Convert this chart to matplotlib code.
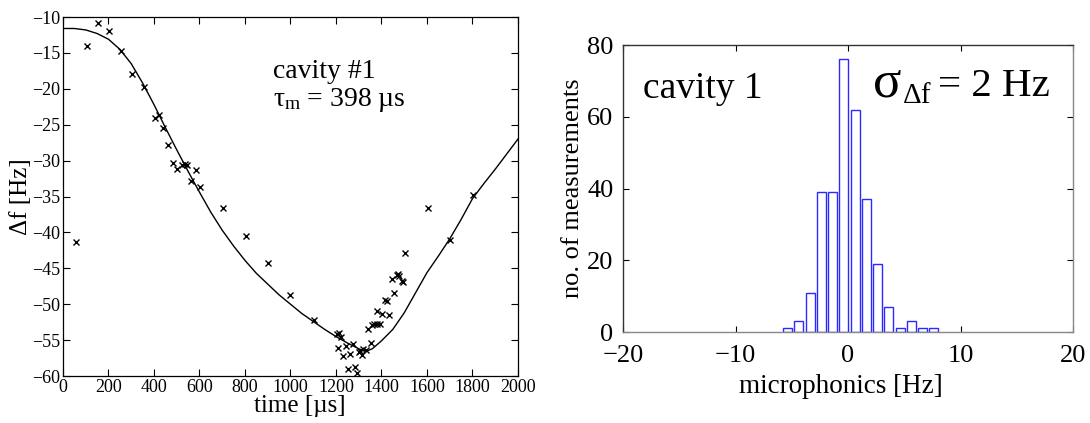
import matplotlib
matplotlib.use("Agg")
import matplotlib.pyplot as plt

plt.rcParams['font.family'] = ['Liberation Serif', 'DejaVu Serif']
plt.rcParams['mathtext.fontset'] = 'custom'
plt.rcParams['mathtext.rm'] = 'Liberation Serif'
plt.rcParams['mathtext.it'] = 'Liberation Serif'
plt.rcParams['mathtext.bf'] = 'Liberation Serif:bold'
plt.rcParams['axes.unicode_minus'] = True

# ---- left panel data: measured detuning and model curve ----
scatter_t = [57, 104, 152, 204, 253, 302, 356, 404, 424, 441,
             463, 482, 502, 522, 536, 544, 563, 585, 602, 702,
             803, 903, 1000, 1103, 1206, 1212, 1220, 1210, 1232, 1244,
             1262, 1273, 1254, 1284, 1291, 1300, 1305, 1317, 1313, 1332,
             1342, 1352, 1357, 1367, 1379, 1393, 1382, 1401, 1415, 1423,
             1434, 1445, 1455, 1467, 1472, 1477, 1489, 1496, 1503, 1606,
             1701, 1804]
scatter_f = [-41.4, -14.1, -10.9, -11.9, -14.8, -17.9, -19.8, -24.1, -23.6, -25.5,
             -27.8, -30.3, -31.1, -30.6, -30.5, -30.6, -32.9, -31.3, -33.7, -36.6,
             -40.5, -44.2, -48.7, -52.2, -54.2, -54.0, -54.5, -56.1, -57.2, -55.8,
             -56.9, -55.5, -59.0, -58.8, -59.6, -56.6, -56.5, -56.2, -57.1, -56.4,
             -53.5, -55.4, -52.9, -52.8, -52.8, -52.8, -50.9, -51.4, -49.4, -49.5,
             -51.5, -46.5, -48.5, -45.9, -45.8, -46.1, -46.8, -46.9, -42.8, -36.6,
             -41.1, -34.8]

curve_t = [0, 50, 100, 150, 200, 250, 300, 350, 400, 450, 500, 550, 600, 650,
           700, 750, 800, 850, 900, 950, 1000, 1050, 1100, 1150, 1200, 1250,
           1300, 1330, 1360, 1400, 1450, 1500, 1550, 1600, 1650, 1700, 1750,
           1800, 1850, 1900, 1950, 2000]
curve_f = [-11.6, -11.6, -11.8, -12.3, -13.1, -14.5, -16.5, -19.2, -22.2, -25.4,
           -28.5, -31.5, -34.4, -37.2, -39.7, -41.9, -43.9, -45.7, -47.2, -48.7,
           -50.0, -51.3, -52.4, -53.5, -54.5, -55.4, -56.2, -56.6, -56.2, -55.1,
           -53.5, -51.2, -48.4, -45.6, -43.3, -40.9, -38.2, -35.3, -33.2, -31.2,
           -29.1, -27.0]

xticks_left = [0, 200, 400, 600, 800, 1000, 1200, 1400, 1600, 1800, 2000]
yticks_left = [-60, -55, -50, -45, -40, -35, -30, -25, -20, -15, -10]

# ---- right panel data: histogram of microphonics ----
bin_centers = [-5.37, -4.37, -3.37, -2.37, -1.37, -0.37, 0.63, 1.63, 2.63,
               3.63, 4.63, 5.63, 6.63, 7.63]
counts = [1, 3, 11, 39, 39, 76, 62, 37, 19, 7, 1, 3, 1, 1]
xticks_right = [-20, -10, 0, 10, 20]
yticks_right = [0, 20, 40, 60, 80]

fig = plt.figure(figsize=(10.9, 4.23), dpi=100)

# ---------- left ----------
ax1 = fig.add_axes([0.0578, 0.1111, 0.4174, 0.8487])
ax1.plot(curve_t, curve_f, color='black', lw=1.0)
ax1.plot(scatter_t, scatter_f, ls='none', marker='x', color='black',
         markersize=5, markeredgewidth=1.0)
ax1.set_xlim(0, 2000)
ax1.set_ylim(-60, -10)
ax1.set_xticks(xticks_left)
ax1.set_yticks(yticks_left)
ax1.tick_params(direction='in', top=True, right=True, length=5, width=0.8,
                labelsize=13, pad=2)
for s in ax1.spines.values():
    s.set_linewidth(0.9)
ax1.set_xlabel('time [µs]', fontsize=18)
ax1.xaxis.set_label_coords((300 - 63) / 455, -0.052)
ax1.set_ylabel('Δf [Hz]', fontsize=18, labelpad=0)
ax1.text(0.4615, 0.830, 'cavity #1', transform=ax1.transAxes, fontsize=20,
         va='baseline', ha='left')
ax1.text(0.4615, 0.752, r'$\tau_{\rm m}$ = 398 µs', transform=ax1.transAxes,
         fontsize=20, va='baseline', ha='left')

# ---------- right ----------
ax2 = fig.add_axes([0.5716, 0.2151, 0.4128, 0.6785])
ax2.bar(bin_centers, counts, width=0.8, facecolor='white', edgecolor='#2a2aff',
        linewidth=1.0, zorder=2)
ax2.set_xlim(-20, 20)
ax2.set_ylim(0, 80)
ax2.set_xticks(xticks_right)
ax2.set_yticks(yticks_right)
ax2.tick_params(direction='in', top=True, right=True, length=4, width=0.8,
                labelsize=19)
ax2.tick_params(axis='x', pad=9)
ax2.tick_params(axis='y', pad=7)
ax2.spines['bottom'].set_color('#888888')
ax2.spines['right'].set_color('#888888')
ax2.spines['top'].set_color('#333333')
ax2.spines['left'].set_color('#333333')
for s in ax2.spines.values():
    s.set_linewidth(1.0)
ax2.set_xlabel('microphonics [Hz]', fontsize=19.5)
ax2.xaxis.set_label_coords(0.484, -0.148)
ax2.set_ylabel('no. of measurements', fontsize=19, labelpad=2)
ax2.text(0.044, 0.815, 'cavity 1', transform=ax2.transAxes, fontsize=27,
         va='baseline', ha='left')
ax2.text(0.556, 0.822, 'σ', transform=ax2.transAxes, fontsize=38,
         va='baseline', ha='left')
ax2.text(0.622, 0.798, 'Δf', transform=ax2.transAxes, fontsize=21,
         va='baseline', ha='left')
ax2.text(0.700, 0.822, '= 2 Hz', transform=ax2.transAxes, fontsize=29.5,
         va='baseline', ha='left')

fig.savefig('out.png', dpi=100)
